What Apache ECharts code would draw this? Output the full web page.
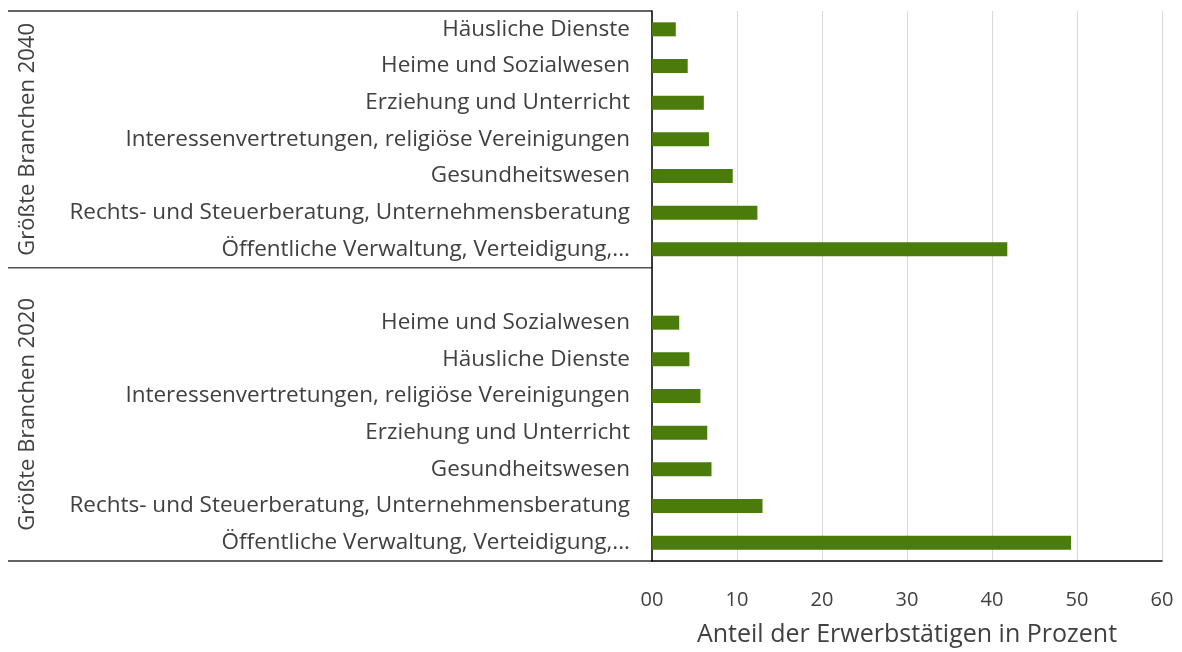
<!DOCTYPE html>
<html>
<head>
<meta charset="utf-8">
<script src="https://cdn.jsdelivr.net/npm/echarts@6/dist/echarts.min.js"></script>
<style>
html,body{margin:0;padding:0;background:#fff;}
#chart{width:1182px;height:652px;}
</style>
</head>
<body>
<div id="chart"></div>
<script>
// ---- data ----
var groupLabels = ['Größte Branchen 2040', 'Größte Branchen 2020'];
var categories2040 = ['Häusliche Dienste', 'Heime und Sozialwesen', 'Erziehung und Unterricht', 'Interessenvertretungen, religiöse Vereinigungen', 'Gesundheitswesen', 'Rechts- und Steuerberatung, Unternehmensberatung', 'Öffentliche Verwaltung, Verteidigung,...'];
var values2040 = [2.8, 4.2, 6.1, 6.7, 9.5, 12.4, 41.8];
var categories2020 = ['', 'Heime und Sozialwesen', 'Häusliche Dienste', 'Interessenvertretungen, religiöse Vereinigungen', 'Erziehung und Unterricht', 'Gesundheitswesen', 'Rechts- und Steuerberatung, Unternehmensberatung', 'Öffentliche Verwaltung, Verteidigung,...'];
var values2020 = [null, 3.2, 4.4, 5.7, 6.5, 7.0, 13.0, 49.3];
var xTickLabels = ['00', '10', '20', '30', '40', '50', '60'];
var xAxisTitle = 'Anteil der Erwerbstätigen in Prozent';

var categories = categories2040.concat(categories2020);
var values = values2040.concat(values2020);

var FONT = '"Open Sans", sans-serif';
var TXT = '#404040';

var chart = echarts.init(document.getElementById('chart'), null, {renderer: 'canvas'});
var option = {
  animation: false,
  backgroundColor: '#ffffff',
  grid: {left: 652, right: 20, top: 11, bottom: 89, containLabel: false},
  xAxis: {
    type: 'value', min: 0, max: 60, interval: 10,
    axisLine: {show: true, lineStyle: {color: '#000', width: 1.5}},
    axisTick: {show: false},
    splitLine: {show: true, lineStyle: {color: '#d9d9d9', width: 1}},
    axisLabel: {
      color: TXT, fontFamily: FONT, fontSize: 20, margin: 29,
      formatter: function (v) { return xTickLabels[Math.round(v / 10)]; }
    },
    name: xAxisTitle, nameLocation: 'middle', nameGap: 61,
    nameTextStyle: {color: TXT, fontFamily: FONT, fontSize: 25}
  },
  yAxis: {
    type: 'category', inverse: true, data: categories,
    axisLine: {show: true, lineStyle: {color: '#000', width: 1.5}},
    axisTick: {show: false},
    splitLine: {show: false},
    axisLabel: {color: TXT, fontFamily: FONT, fontSize: 22.5, margin: 22, interval: 0}
  },
  series: [{
    type: 'bar', data: values, barWidth: 14,
    itemStyle: {color: '#4a7b0b'}
  }]
};
chart.setOption(option);

// brackets and group labels from the category scale
function yEdge(i) { // boundary above category index i
  var a = chart.convertToPixel({yAxisIndex: 0}, 0);
  var b = chart.convertToPixel({yAxisIndex: 0}, 1);
  var band = b - a;
  return a - band / 2 + i * band;
}
var n1 = categories2040.length, n2 = categories2020.length;
var yTop = yEdge(0), yMid = yEdge(n1), yBot = yEdge(n1 + n2);
var xL = 8, xR = 652;
chart.setOption({
  graphic: [
    {type: 'line', shape: {x1: xL, y1: yTop, x2: xR, y2: yTop}, style: {stroke: '#303030', lineWidth: 1.5}},
    {type: 'line', shape: {x1: xL, y1: yMid, x2: xR, y2: yMid}, style: {stroke: '#505050', lineWidth: 1.5}},
    {type: 'line', shape: {x1: xL, y1: yBot, x2: xR, y2: yBot}, style: {stroke: '#303030', lineWidth: 1.5}},
    {type: 'text', x: 28, y: (yTop + yMid) / 2, rotation: Math.PI / 2,
      style: {text: groupLabels[0], fill: TXT, font: '22px ' + FONT, align: 'center', verticalAlign: 'middle'}},
    {type: 'text', x: 28, y: (yMid + yBot) / 2, rotation: Math.PI / 2,
      style: {text: groupLabels[1], fill: TXT, font: '22px ' + FONT, align: 'center', verticalAlign: 'middle'}}
  ]
});
</script>
</body>
</html>
